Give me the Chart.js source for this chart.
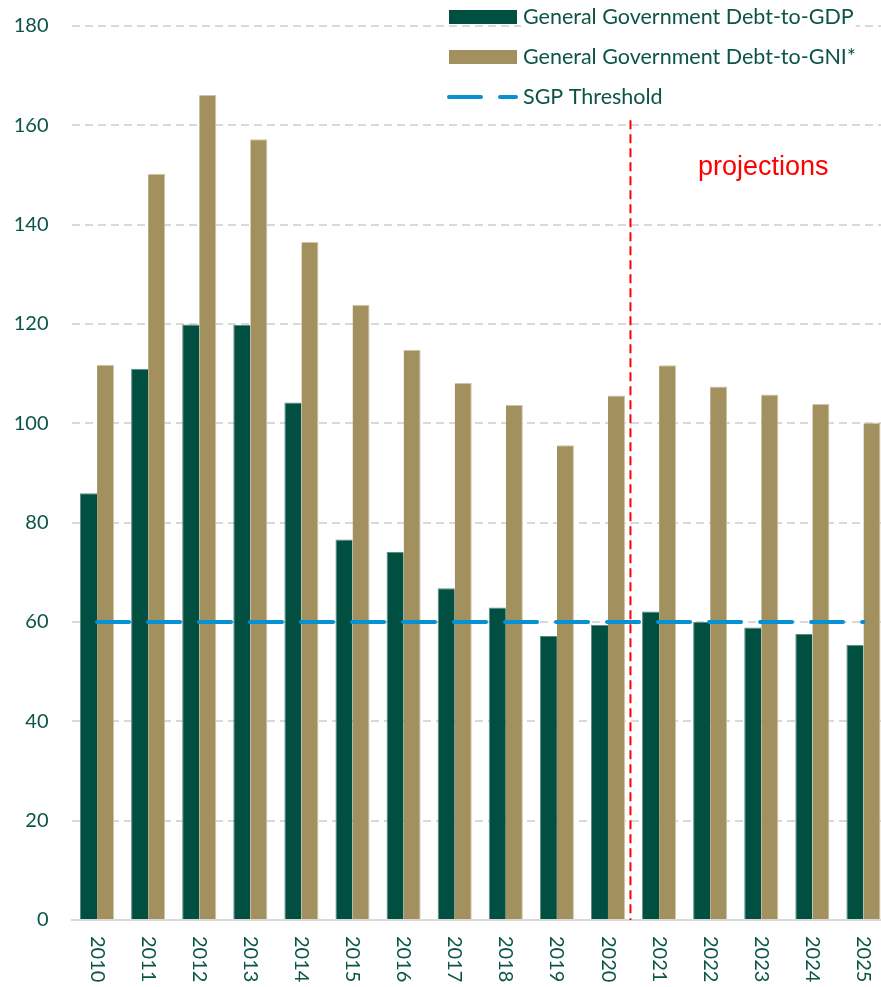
<!DOCTYPE html>
<html>
<head>
<meta charset="utf-8">
<script src="https://cdn.jsdelivr.net/npm/chart.js@4"></script>
<style>
  html, body { margin: 0; padding: 0; background: #fff; overflow: hidden; }
  #wrap { width: 889px; height: 987px; }
</style>
</head>
<body>
<div id="wrap"><canvas id="debtChart" width="889" height="987"></canvas></div>
<script>
// Debt ratios, % of GDP / GNI*
const years = ["2010", "2011", "2012", "2013", "2014", "2015", "2016", "2017", "2018", "2019", "2020", "2021", "2022", "2023", "2024", "2025"];
const debtToGdp = [85.9, 111.0, 119.9, 119.8, 104.2, 76.6, 74.1, 66.8, 62.9, 57.2, 59.4, 62.1, 60.0, 58.9, 57.6, 55.4];
const debtToGni = [111.8, 150.2, 166.1, 157.2, 136.5, 123.9, 114.8, 108.1, 103.7, 95.6, 105.6, 111.7, 107.4, 105.8, 103.9, 100.1];
const sgpThreshold = [60, 60, 60, 60, 60, 60, 60, 60, 60, 60, 60, 60, 60, 60, 60, 60];
const yTicks = [0, 20, 40, 60, 80, 100, 120, 140, 160, 180];

const textColor = '#0b5446';
const green = '#004f40';
const gold = '#a3905f';
const blue = '#0791d3';
const uiFont = 'Lato, "Open Sans", sans-serif';

// vertical "projections" divider between 2020 and 2021
const projectionsMarker = {
    id: 'projectionsMarker',
    afterDatasetsDraw(chart) {
        const { ctx, chartArea, scales: { x, y } } = chart;
        const px = x.getPixelForValue(10.44);
        ctx.save();
        ctx.strokeStyle = '#ff0000';
        ctx.lineWidth = 2;
        ctx.setLineDash([9, 5]);
        ctx.beginPath();
        ctx.moveTo(px, y.getPixelForValue(161));
        ctx.lineTo(px, chartArea.bottom);
        ctx.stroke();
        ctx.setLineDash([]);
        ctx.fillStyle = '#ff0000';
        ctx.font = '27px "Liberation Sans", Arial, sans-serif';
        ctx.textBaseline = 'middle';
        ctx.fillText('projections', 698, 168);
        ctx.restore();
    }
};

// year labels, rotated to read top-to-bottom
const yearLabels = {
    id: 'yearLabels',
    afterDraw(chart) {
        const { ctx, chartArea, scales: { x } } = chart;
        ctx.save();
        ctx.fillStyle = textColor;
        ctx.font = '20px ' + uiFont;
        ctx.textAlign = 'left';
        ctx.textBaseline = 'middle';
        years.forEach((label, i) => {
            ctx.save();
            ctx.translate(x.getPixelForTick(i), chartArea.bottom + 16);
            ctx.rotate(Math.PI / 2);
            ctx.fillText(label, 0, 0);
            ctx.restore();
        });
        ctx.restore();
    }
};

// legend stacked in the top right corner
const cornerLegend = {
    id: 'cornerLegend',
    afterDraw(chart) {
        const ctx = chart.ctx;
        const items = chart.data.datasets;
        ctx.save();
        ctx.font = '21.5px ' + uiFont;
        ctx.textBaseline = 'middle';
        items.forEach((ds, i) => {
            const cy = 17 + i * 40;
            const tw = ctx.measureText(ds.label).width;
            ctx.fillStyle = '#fff';
            ctx.fillRect(521, cy - 13, tw + 4, 26);
            if (ds.type === 'line') {
                ctx.strokeStyle = ds.borderColor;
                ctx.lineWidth = 4;
                ctx.lineCap = 'round';
                ctx.beginPath();
                ctx.moveTo(449, cy);
                ctx.lineTo(481, cy);
                ctx.moveTo(500, cy);
                ctx.lineTo(516, cy);
                ctx.stroke();
            } else {
                ctx.fillStyle = ds.backgroundColor;
                ctx.fillRect(449, cy - 7, 68, 14);
            }
            ctx.fillStyle = textColor;
            ctx.fillText(ds.label, 523, cy);
        });
        ctx.restore();
    }
};

const ctx = document.getElementById('debtChart').getContext('2d');
new Chart(ctx, {
    data: {
        labels: years,
        datasets: [
            {
                type: 'bar',
                label: 'General Government Debt-to-GDP',
                data: debtToGdp,
                backgroundColor: green,
                borderColor: '#5d8b82',
                borderWidth: { top: 1, left: 1, right: 0, bottom: 0 },
                categoryPercentage: 0.667,
                barPercentage: 1,
                order: 2
            },
            {
                type: 'bar',
                label: 'General Government Debt-to-GNI*',
                data: debtToGni,
                backgroundColor: gold,
                borderColor: '#cfc5a6',
                borderWidth: { top: 1, left: 0, right: 1, bottom: 0 },
                categoryPercentage: 0.667,
                barPercentage: 1,
                order: 2
            },
            {
                type: 'line',
                label: 'SGP Threshold',
                data: sgpThreshold,
                borderColor: blue,
                borderWidth: 4,
                borderDash: [32, 19],
                borderCapStyle: 'round',
                pointRadius: 0,
                fill: false,
                order: 1
            }
        ]
    },
    options: {
        responsive: false,
        animation: false,
        layout: { padding: { top: 26, left: 0, right: 0, bottom: 0 } },
        plugins: {
            legend: { display: false },
            tooltip: { enabled: false }
        },
        scales: {
            x: {
                grid: { display: false },
                border: { display: true, color: '#d9d9d9', width: 2 },
                ticks: { display: false },
                afterFit(scale) { scale.height = 67; }
            },
            y: {
                min: 0,
                max: 180,
                afterBuildTicks(scale) { scale.ticks = yTicks.map(v => ({ value: v })); },
                grid: {
                    color: ctx => ctx.tick.value === 0 ? 'rgba(0,0,0,0)' : '#d9d9d9',
                    lineWidth: 2,
                    drawTicks: false
                },
                border: { display: false, dash: [8, 5] },
                ticks: {
                    color: textColor,
                    font: { family: uiFont, size: 20 },
                    padding: 23
                },
                afterFit(scale) {
                    scale.width = 71.5;
                    scale.paddingTop = 0;
                    scale.paddingBottom = 0;
                }
            }
        }
    },
    plugins: [projectionsMarker, yearLabels, cornerLegend]
});
</script>
</body>
</html>
